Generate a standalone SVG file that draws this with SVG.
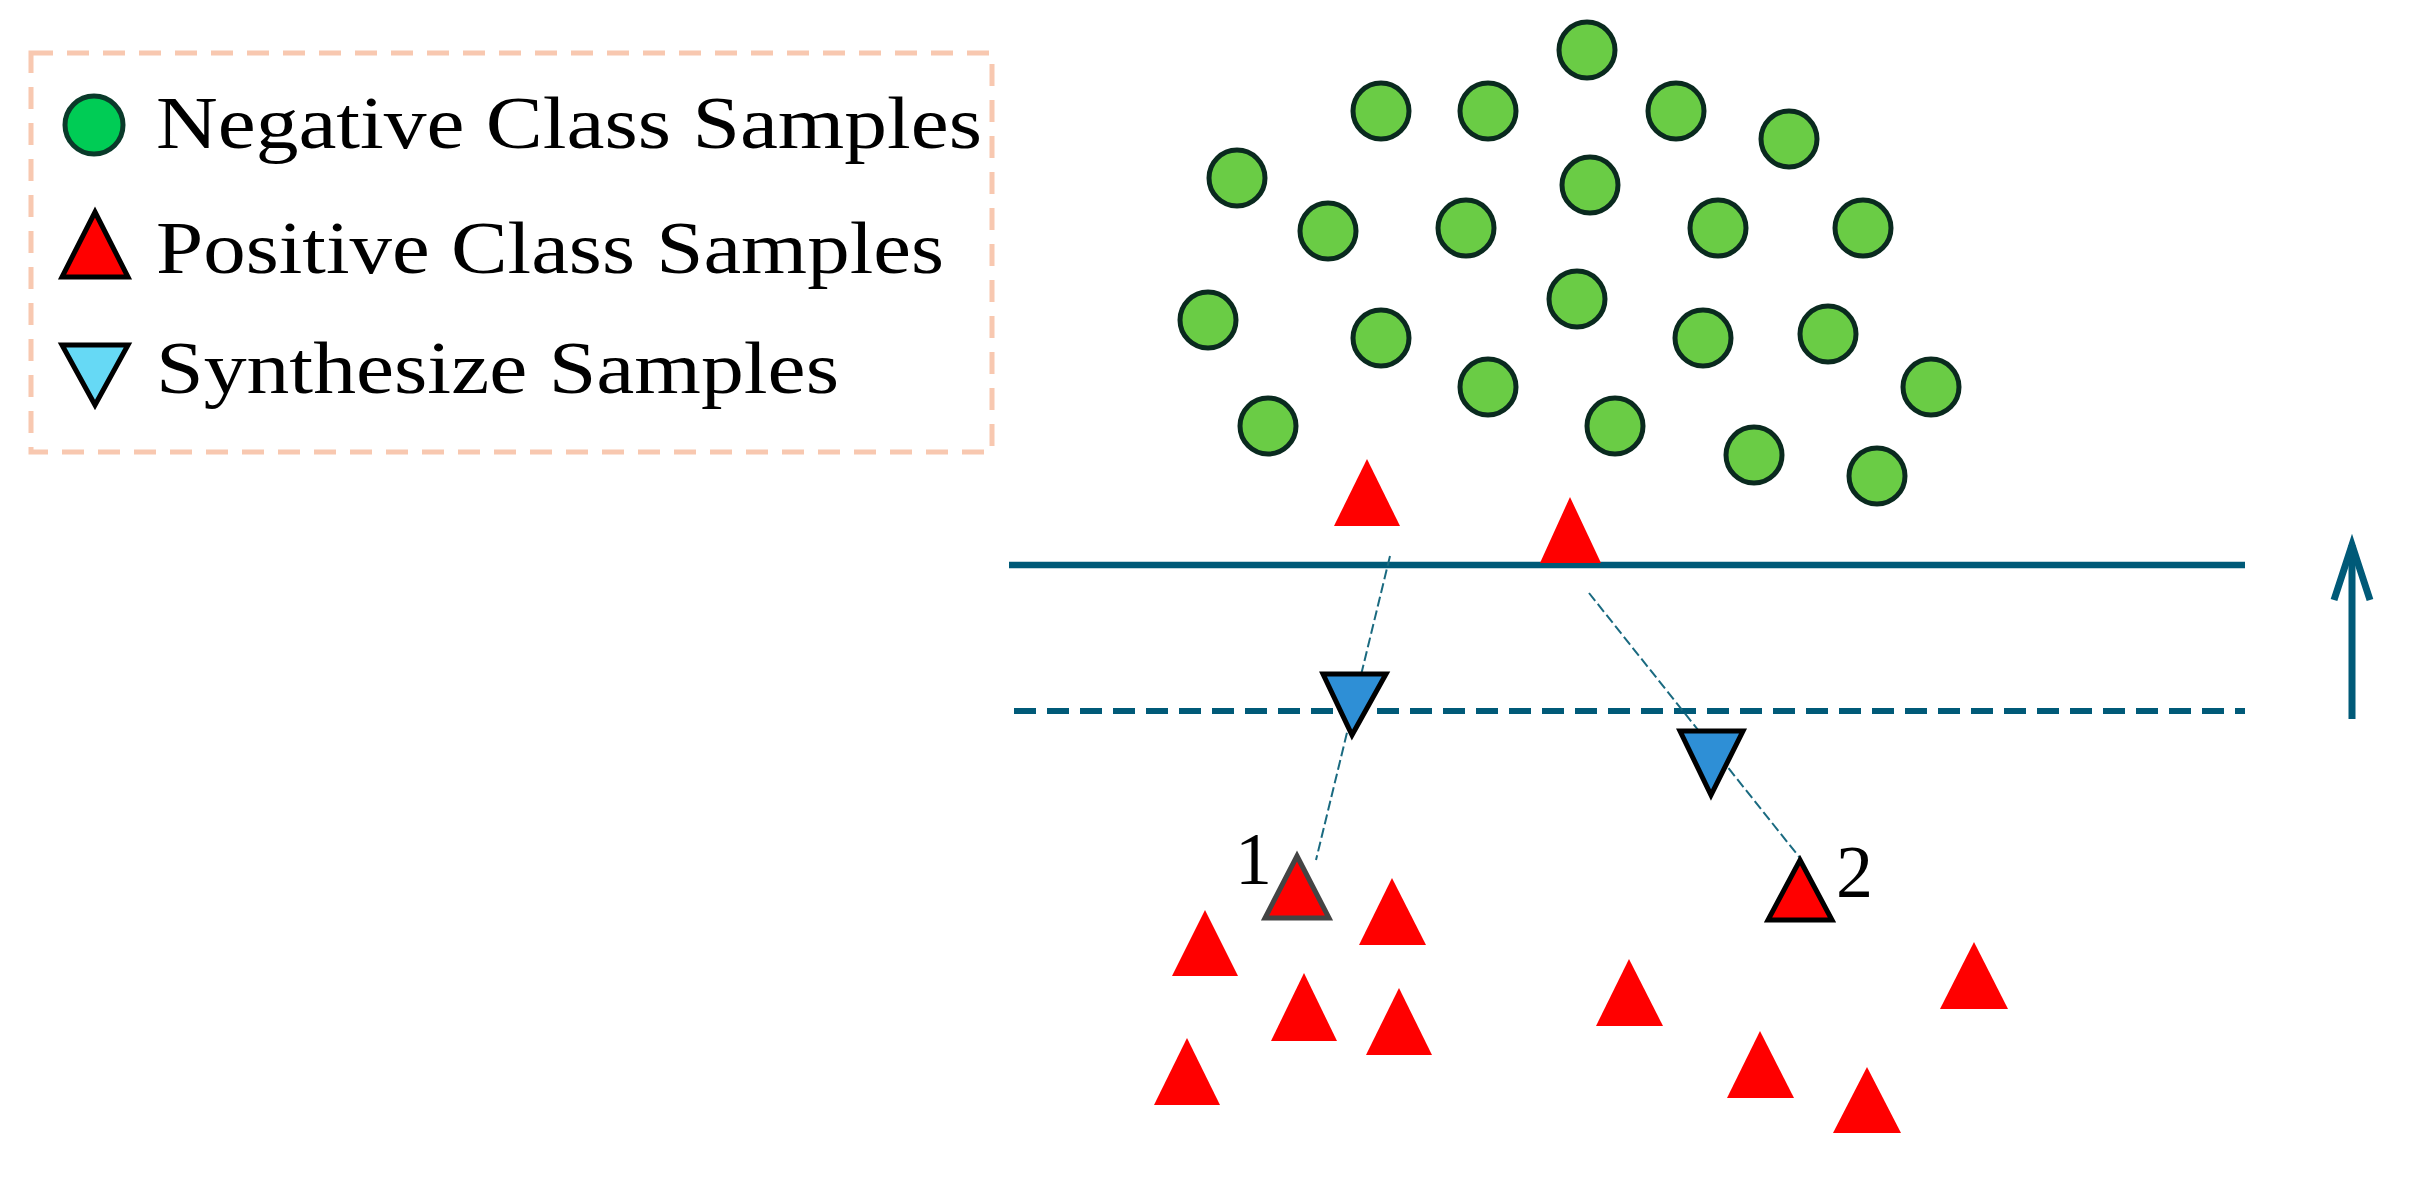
<svg xmlns="http://www.w3.org/2000/svg" width="2417" height="1181" viewBox="0 0 2417 1181">
<style>
.neg{fill:#6acc45;stroke:#0a2a1f;stroke-width:5}
.pos{fill:#ff0000;stroke:none}
.syn{fill:#2e8fd6;stroke:#000;stroke-width:5}
.t{font-family:"Liberation Serif",serif;font-size:74px;fill:#000}
.conn{stroke:#1a6a80;stroke-width:2;stroke-dasharray:10,4;fill:none}
</style>
<rect width="2417" height="1181" fill="#fff"/>
<g id="legend">
<rect x="31" y="53" width="961" height="399" fill="none" stroke="#f8c8b0" stroke-width="5" stroke-dasharray="22,14"/>
<circle cx="94" cy="125" r="29" fill="#00cc55" stroke="#0a3a2a" stroke-width="5"/>
<text class="t" x="156" y="148" textLength="826" lengthAdjust="spacingAndGlyphs">Negative Class Samples</text>
<polygon points="95,212 128,277 62,277" fill="#ff0000" stroke="#000" stroke-width="5"/>
<text class="t" x="156" y="273" textLength="788" lengthAdjust="spacingAndGlyphs">Positive Class Samples</text>
<polygon points="62,345 128,345 95,405" fill="#66d9f5" stroke="#000" stroke-width="5"/>
<text class="t" x="156" y="393" textLength="683" lengthAdjust="spacingAndGlyphs">Synthesize Samples</text>
</g>
<g id="negatives">
<circle class="neg" cx="1587" cy="50" r="28"/>
<circle class="neg" cx="1381" cy="111" r="28"/>
<circle class="neg" cx="1488" cy="111" r="28"/>
<circle class="neg" cx="1676" cy="111" r="28"/>
<circle class="neg" cx="1789" cy="139" r="28"/>
<circle class="neg" cx="1237" cy="178" r="28"/>
<circle class="neg" cx="1590" cy="185" r="28"/>
<circle class="neg" cx="1328" cy="231" r="28"/>
<circle class="neg" cx="1466" cy="228" r="28"/>
<circle class="neg" cx="1718" cy="228" r="28"/>
<circle class="neg" cx="1863" cy="228" r="28"/>
<circle class="neg" cx="1208" cy="320" r="28"/>
<circle class="neg" cx="1381" cy="338" r="28"/>
<circle class="neg" cx="1577" cy="299" r="28"/>
<circle class="neg" cx="1703" cy="338" r="28"/>
<circle class="neg" cx="1828" cy="334" r="28"/>
<circle class="neg" cx="1488" cy="387" r="28"/>
<circle class="neg" cx="1931" cy="387" r="28"/>
<circle class="neg" cx="1268" cy="426" r="28"/>
<circle class="neg" cx="1615" cy="426" r="28"/>
<circle class="neg" cx="1754" cy="455" r="28"/>
<circle class="neg" cx="1877" cy="476" r="28"/>
</g>
<g id="lines">
<line x1="1009" y1="565" x2="2245" y2="565" stroke="#005a78" stroke-width="6.5"/>
<line x1="1014" y1="711" x2="2245" y2="711" stroke="#005a78" stroke-width="6" stroke-dasharray="22,11"/>
<line x1="2352" y1="545" x2="2352" y2="719" stroke="#005a78" stroke-width="7"/>
<polyline points="2334,600 2352,545 2370,600" fill="none" stroke="#005a78" stroke-width="7"/>
</g>
<g id="positives">
<polygon class="pos" points="1367,459 1400,526 1334,526"/>
<polygon class="pos" points="1570,497 1601,563 1540,563"/>
<polygon class="pos" points="1205,910 1238,976 1172,976"/>
<polygon class="pos" points="1392,878 1426,945 1359,945"/>
<polygon class="pos" points="1304,973 1337,1041 1271,1041"/>
<polygon class="pos" points="1399,988 1432,1055 1366,1055"/>
<polygon class="pos" points="1187,1038 1220,1105 1154,1105"/>
<polygon class="pos" points="1629,959 1663,1026 1596,1026"/>
<polygon class="pos" points="1974,942 2008,1009 1940,1009"/>
<polygon class="pos" points="1760,1031 1794,1098 1727,1098"/>
<polygon class="pos" points="1867,1067 1901,1133 1833,1133"/>
</g>
<g id="connectors">
<line class="conn" x1="1390" y1="556" x2="1316" y2="860"/>
<line class="conn" x1="1589" y1="593" x2="1800" y2="858"/>
</g>
<g id="synth1"><polygon class="syn" points="1323,674 1386,674 1352,735"/></g>
<g id="synth2"><polygon class="syn" points="1680,731 1743,731 1711,795"/></g>
<g id="p1">
<polygon points="1297,856 1329,918 1265,918" fill="#ff0000" stroke="#444" stroke-width="5"/>
<text class="t" x="1235" y="884">1</text>
</g>
<g id="p2">
<polygon points="1800,860 1832,920 1768,920" fill="#ff0000" stroke="#000" stroke-width="5"/>
<text class="t" x="1836" y="897">2</text>
</g>
</svg>
